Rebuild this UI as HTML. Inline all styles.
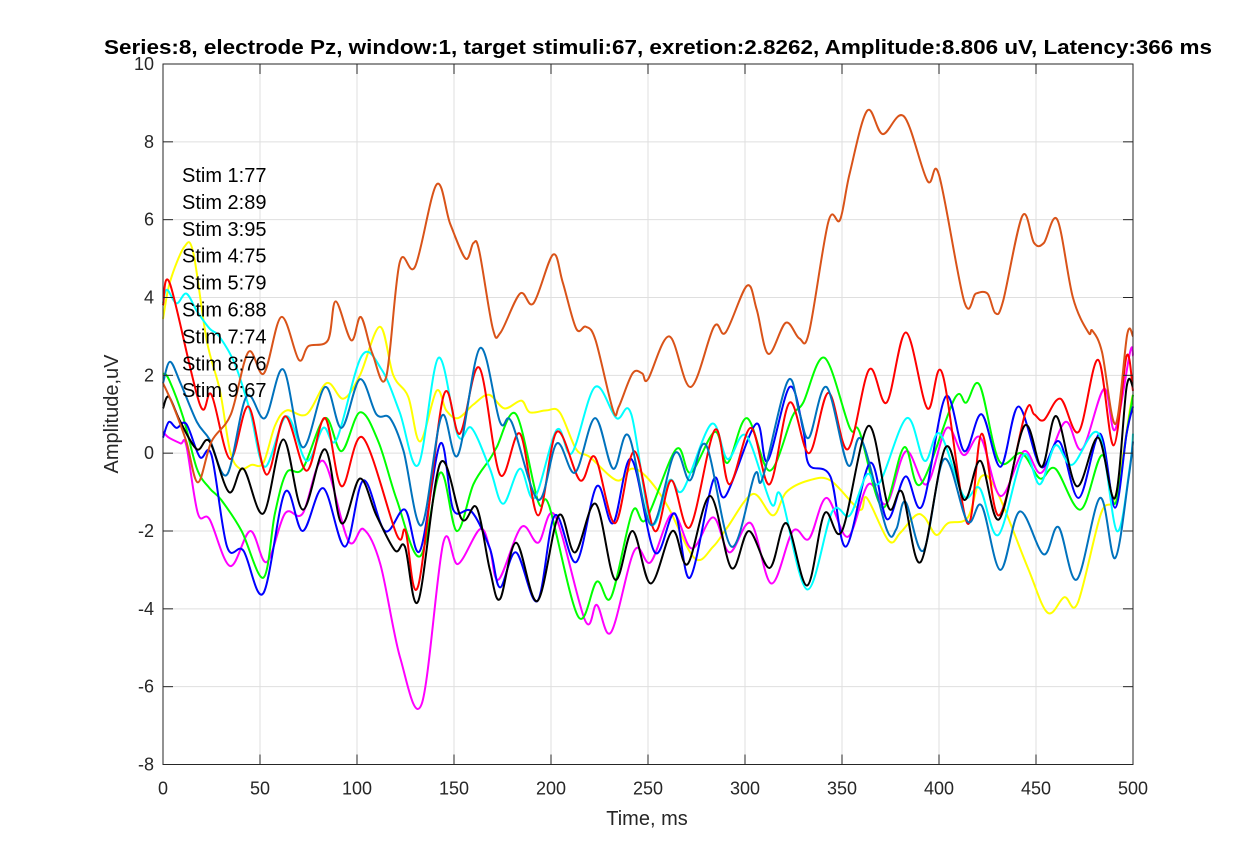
<!DOCTYPE html>
<html><head><meta charset="utf-8"><style>
body{margin:0;background:#fff;}
svg text{font-family:"Liberation Sans",Arial,sans-serif;}
</style></head><body>
<svg id="chart" width="1250" height="859" xmlns="http://www.w3.org/2000/svg">
<rect x="0" y="0" width="1250" height="859" fill="#fff"/>
<g id="grid"></g>
<g id="lines"></g>
<g id="axes"></g>
<text x="658" y="54" text-anchor="middle" font-size="20" font-weight="bold" fill="#000" textLength="1108" lengthAdjust="spacingAndGlyphs">Series:8, electrode Pz, window:1, target stimuli:67, exretion:2.8262, Amplitude:8.806 uV, Latency:366 ms</text>
<text x="647" y="825" text-anchor="middle" font-size="20" fill="#262626">Time, ms</text>
<text transform="translate(118,414) rotate(-90)" text-anchor="middle" font-size="20" fill="#262626">Amplitude,uV</text>
<g id="legend"></g>
</svg>
<script>
const xTicks=[0,50,100,150,200,250,300,350,400,450,500];
const yTicks=[-8,-6,-4,-2,0,2,4,6,8,10];
const legendLabels=["Stim 1:77","Stim 2:89","Stim 3:95","Stim 4:75","Stim 5:79","Stim 6:88","Stim 7:74","Stim 8:76","Stim 9:67"];

const tOrange=[0,5,12,18,25,35,44,52,61,70,75,85,89,97,102,108,115,122,130,141,148,156,160,163,170,174,184,191,201,206,213,218,223,232,235,242,247,250,261,272,284,290,301,306,312,321,328,333,343,349,354,363,371,382,394,400,413,419,425,429,433,443,449,454,461,469,477,479,484,491,497,500];
const vOrange=[1.8,1.25,0.3,-0.75,0.3,1.0,2.6,2.05,3.5,2.4,2.75,2.9,3.9,2.9,3.5,2.55,1.95,4.9,4.8,6.9,5.9,5.0,5.4,5.2,3.2,3.1,4.1,3.85,5.1,4.4,3.2,3.25,2.9,1.1,1.2,2.05,2.05,1.9,3.0,1.7,3.25,3.1,4.3,3.7,2.55,3.35,2.95,3.1,5.95,6.0,7.2,8.8,8.2,8.65,7.0,7.15,3.9,4.1,4.1,3.6,3.9,6.1,5.4,5.4,6.0,4.0,3.1,3.15,2.6,0.75,3.05,3.0];

const tRed=[0,3.6,19,25,34.6,44,53.4,63,74,83.5,92,103,120.5,125,131.6,144.5,153,163,173.7,184,193.4,203,215,222.7,233,243,253.5,262,271.6,284.5,292,303,312.7,323,333,343,353,364,373,383,394,401.7,414.6,422,431,444.6,449,454,462.6,472,482,490,496.7,500];
const vRed=[3.8,4.35,1.25,1.5,-0.15,1.2,-0.55,0.95,-0.45,0.9,-0.85,0.4,-2.1,-2.0,-3.4,1.45,0.5,2.2,-0.55,0.5,-1.6,0.55,-0.7,-0.1,-1.8,0.05,-2.0,-0.7,-1.9,0.6,-0.8,0.65,-0.8,1.3,0.0,1.55,0.1,2.15,1.3,3.1,1.15,2.05,-1.8,0.5,-1.6,1.05,1.0,0.85,1.4,0.55,2.4,0.2,2.5,1.6];

const tGreen=[0,3,10.5,17.5,24,30,40.5,51.7,57.7,63.7,72,83.5,92,101.5,111,120.5,132.5,143,151.4,160,168.5,172,182,193.4,199,214,223.6,231,242,249,264.5,272,284.5,291,301,312.7,324.5,330,341,354,359,371,382,390.5,408,414,421,431,442.6,452,460,473,484,490.7,496.7,500];
const vGreen=[2.05,1.9,0.9,-0.4,-0.9,-1.2,-2.0,-3.2,-1.55,-0.5,-0.4,0.9,0.05,1.05,0.3,-1.2,-2.65,-0.5,-2.0,-0.8,-0.15,0.15,1.0,-1.25,-1.35,-4.2,-3.3,-3.7,-1.5,-1.7,0.1,-0.5,0.55,-0.25,0.9,-0.45,0.95,1.3,2.45,0.65,0.55,-1.4,0.15,-0.8,1.4,1.3,1.75,-0.2,0.0,-0.65,-0.4,-1.45,-0.05,-1.3,0.5,1.5];

const tBlue=[0,3,7,12,19,25,33,41.4,51.7,62.9,72,82.6,93.8,103.3,114.4,124.7,132.5,143,149.6,159,168.5,173.7,182,193,202,213,223.6,232,241.4,253.5,263.8,271.6,283.6,290,305.6,311.6,323,330,333,344,352,364.5,373.3,382.7,391.4,403.4,413,422,431.7,441,452.4,462,472,483,490.7,496.7,500];
const vBlue=[0.4,0.8,0.65,0.75,-0.1,-0.05,-2.4,-2.5,-3.6,-1.0,-2.0,-0.9,-2.4,-0.7,-2.0,-1.45,-2.5,0.25,-1.45,-1.5,-2.45,-3.45,-2.55,-3.8,-1.6,-2.8,-0.85,-1.8,-0.15,-2.55,-1.55,-3.2,-0.7,-1.1,0.75,-0.2,1.7,0.6,-0.3,-0.6,-2.4,-0.25,-1.7,-0.6,-1.35,1.45,0.05,1.0,-0.35,1.2,-0.35,0.3,-1.15,0.5,-1.4,0.5,1.2];

const tBlack=[0,3,9,17.5,24,34,41.4,51.7,62,72,83.5,92,101.5,110,119.6,124.7,131.6,143,154,161.7,168.5,173.7,182,193,204,212.4,223,233,242,251.4,262.6,270.4,282,293,302,312.7,321.3,332,341,350,363.6,374,381,390.5,403.4,413,421.4,431,444,453,460.5,471,482,490.7,496.7,500];
const vBlack=[1.15,1.45,0.8,0.1,0.3,-1.0,-0.4,-1.55,0.35,-1.45,0.1,-1.8,-0.65,-1.6,-2.5,-2.4,-3.8,-0.25,-1.7,-1.4,-3.0,-3.75,-2.3,-3.8,-1.6,-2.55,-1.3,-3.25,-2.0,-3.35,-2.0,-2.85,-1.1,-2.95,-2.0,-2.95,-1.8,-3.4,-1.55,-2.0,0.7,-1.4,-1.0,-2.8,0.15,-1.2,-0.2,-1.7,0.7,-0.35,0.95,-0.85,0.4,-1.15,1.7,1.7];

const tMagenta=[0,3,9,12,18,24,34.6,45,53.4,62.9,72,82.6,95.5,103.3,112,122.2,133.3,144.5,152,163.4,168.5,173,184.7,193.4,202,217.6,223.6,231,243,251.4,262.6,272.6,283.6,292,303,313.6,324.7,333,342,353,363.6,373,383,393.6,404,412.7,421.4,431.7,443.7,453,465,473.7,485,490.7,498.5,500];
const vMagenta=[0.55,0.4,0.25,0.2,-1.55,-1.7,-2.9,-2.0,-2.8,-1.55,-1.55,-0.2,-2.25,-1.95,-2.85,-5.25,-6.45,-2.3,-2.85,-1.95,-2.45,-3.25,-1.9,-2.3,-1.6,-4.3,-3.9,-4.6,-2.5,-2.8,-1.55,-2.45,-1.65,-2.55,-1.8,-3.35,-2.0,-2.2,-1.15,-2.15,-0.8,-1.3,0.05,-0.8,0.65,-0.05,0.4,-1.1,0.05,-0.5,0.8,0.1,1.65,0.6,2.6,2.5];

const tYellow=[0,3.6,11,15.6,22.5,29.4,34.6,39.7,45.7,51.7,57.7,63.7,74,84.4,93,101.5,111.8,118.7,126.4,132.5,141,146,152,160,168,176,184.7,189,197.6,204.5,213,220,234,241.4,249,260,274,283.6,291,304,314.4,321.3,333,344,359,362.8,374,380,388,392.6,398.6,404.6,414.9,421.8,430,445.8,456,464.6,471.5,483.5,491,498.5,500];
const vYellow=[3.45,4.4,5.3,5.15,2.9,1.6,0.05,-0.4,-0.3,-0.25,0.7,1.1,1.0,1.8,1.4,2.0,3.25,2.0,1.45,0.3,1.6,1.1,0.9,1.25,1.5,1.15,1.35,1.05,1.1,1.05,0.1,-0.1,-0.7,-0.4,-0.6,-1.35,-2.7,-2.4,-1.9,-1.05,-1.6,-1.0,-0.7,-0.7,-1.45,-1.15,-2.25,-2.05,-1.6,-1.65,-2.1,-1.8,-1.65,-0.6,-1.0,-2.95,-4.1,-3.7,-3.85,-1.55,-1.1,1.15,1.5];

const tCyan=[0,2,7,12,17.5,24,29,37,44.8,52.5,63.7,74,82.6,89.5,102.4,112.7,122,131.6,142,152,159,168.5,175.3,184,191.5,203,210.7,222.7,233.7,241.4,251.7,261,268,282.7,291,300.6,313.5,318.6,332,345,354,362.8,369.5,383.4,392.6,400.4,412.7,421,430.6,443.5,452,460,468.6,482.3,491.7,498.5,500];
const vCyan=[3.85,4.2,3.85,4.1,3.65,3.2,3.0,2.3,1.1,-0.35,0.95,-0.2,0.65,0.35,2.5,2.15,1.05,-0.3,2.45,0.45,0.65,-0.4,-1.3,-0.4,-1.15,0.6,0.0,1.7,0.9,1.0,-1.8,-0.7,-0.95,0.75,-0.15,0.45,-1.3,-1.1,-3.5,-1.5,-1.6,-0.55,-0.75,0.9,-0.2,0.5,-1.1,-0.9,-2.1,-0.05,-0.8,0.2,-0.3,0.5,-2.0,-0.3,0.5];

const tSteel=[0,3.6,9,17.5,24,33,43,52.5,62,72,83.5,92,101.5,110,117,124,133.3,143.6,152,163.4,173.7,179.7,193.4,203,212.4,222.7,232,240,251.7,263.8,271.6,280,293,305,309,322,328,333,342,353,360,373,378,382.7,392,402.7,414.6,422,431.6,441.6,453.9,461.6,471,483,490.7,497.7,500];
const vSteel=[1.8,2.35,1.8,0.8,0.35,-0.55,1.45,0.9,2.15,0.15,1.7,0.65,1.9,1.0,0.9,0.05,-1.85,0.95,-0.05,2.7,0.8,0.8,-1.2,0.25,-0.5,0.9,-0.4,0.45,-1.85,0.0,-0.7,0.2,-2.4,-0.55,-0.65,1.85,1.05,0.4,1.7,-0.3,0.35,-1.95,-1.95,-1.25,-2.5,-0.15,-1.75,-1.35,-3.0,-1.5,-2.6,-1.9,-3.25,-1.15,-2.7,-0.65,0.3];

const L=163,R=1133,T=64,B=764.5;
function xs(t){return L+(t-0)/(500-0)*(R-L);}
function ys(v){return B-(v+8)/18*(B-T);}
const NS="http://www.w3.org/2000/svg";
function mk(tag,attrs,parent){const e=document.createElementNS(NS,tag);for(const k in attrs)e.setAttribute(k,attrs[k]);parent.appendChild(e);return e;}
const grid=document.getElementById('grid'),axes=document.getElementById('axes'),lines=document.getElementById('lines'),legend=document.getElementById('legend');
mk('rect',{x:L,y:T,width:R-L,height:B-T,fill:'#fff'},grid);
xTicks.forEach(t=>{
  const g=mk('line',{x1:xs(t),x2:xs(t),y1:T,y2:B,stroke:'#dfdfdf','stroke-width':1},grid);
  
  
  mk('line',{x1:xs(t),x2:xs(t),y1:B,y2:B-10,stroke:'#262626','stroke-width':1},axes);
  mk('line',{x1:xs(t),x2:xs(t),y1:T,y2:T+10,stroke:'#262626','stroke-width':1},axes);
  const tx=mk('text',{x:xs(t),y:B+30,'text-anchor':'middle','font-size':'18',fill:'#262626'},axes);
  tx.textContent=t;
  
  
});
yTicks.forEach(v=>{
  const g=mk('line',{x1:L,x2:R,y1:ys(v),y2:ys(v),stroke:'#dfdfdf','stroke-width':1},grid);
  
  
  mk('line',{x1:L,x2:L+10,y1:ys(v),y2:ys(v),stroke:'#262626','stroke-width':1},axes);
  mk('line',{x1:R,x2:R-10,y1:ys(v),y2:ys(v),stroke:'#262626','stroke-width':1},axes);
  const tx=mk('text',{x:L-9,y:ys(v)+6,'text-anchor':'end','font-size':'18',fill:'#262626'},axes);
  tx.textContent=v;
  
  
});
const box=mk('rect',{x:L,y:T,width:R-L,height:B-T,fill:'none',stroke:'#262626','stroke-width':1},axes);



function path(ts,vs){
  const p=ts.map((t,i)=>[xs(t),ys(vs[i])]);
  let d='M'+p[0][0].toFixed(1)+','+p[0][1].toFixed(1);
  for(let i=0;i<p.length-1;i++){
    const p0=p[Math.max(0,i-1)],p1=p[i],p2=p[i+1],p3=p[Math.min(p.length-1,i+2)];
    const c1x=p1[0]+(p2[0]-p0[0])/6,c1y=p1[1]+(p2[1]-p0[1])/6;
    const c2x=p2[0]-(p3[0]-p1[0])/6,c2y=p2[1]-(p3[1]-p1[1])/6;
    d+=' C'+c1x.toFixed(1)+','+c1y.toFixed(1)+' '+c2x.toFixed(1)+','+c2y.toFixed(1)+' '+p2[0].toFixed(1)+','+p2[1].toFixed(1);
  }
  return d;
}
const series=[
 ['series-yellow',tYellow,vYellow,'#FFFF00'],
 ['series-magenta',tMagenta,vMagenta,'#FF00FF'],
 ['series-green',tGreen,vGreen,'#00FF00'],
 ['series-blue',tBlue,vBlue,'#0000FF'],
 ['series-cyan',tCyan,vCyan,'#00FFFF'],
 ['series-red',tRed,vRed,'#FF0000'],
 ['series-steelblue',tSteel,vSteel,'#0072BD'],
 ['series-black',tBlack,vBlack,'#000000'],
 ['series-orange',tOrange,vOrange,'#D95319']
];
series.forEach(s=>{
  const e=mk('path',{d:path(s[1],s[2]),fill:'none',stroke:s[3],'stroke-width':2,'stroke-linejoin':'round'},lines);
  
  
});
legendLabels.forEach((lab,i)=>{
  const tx=mk('text',{x:182,y:182+i*26.9,'font-size':'20',fill:'#000'},legend);
  tx.textContent=lab;
  
  
});
</script>
</body></html>
